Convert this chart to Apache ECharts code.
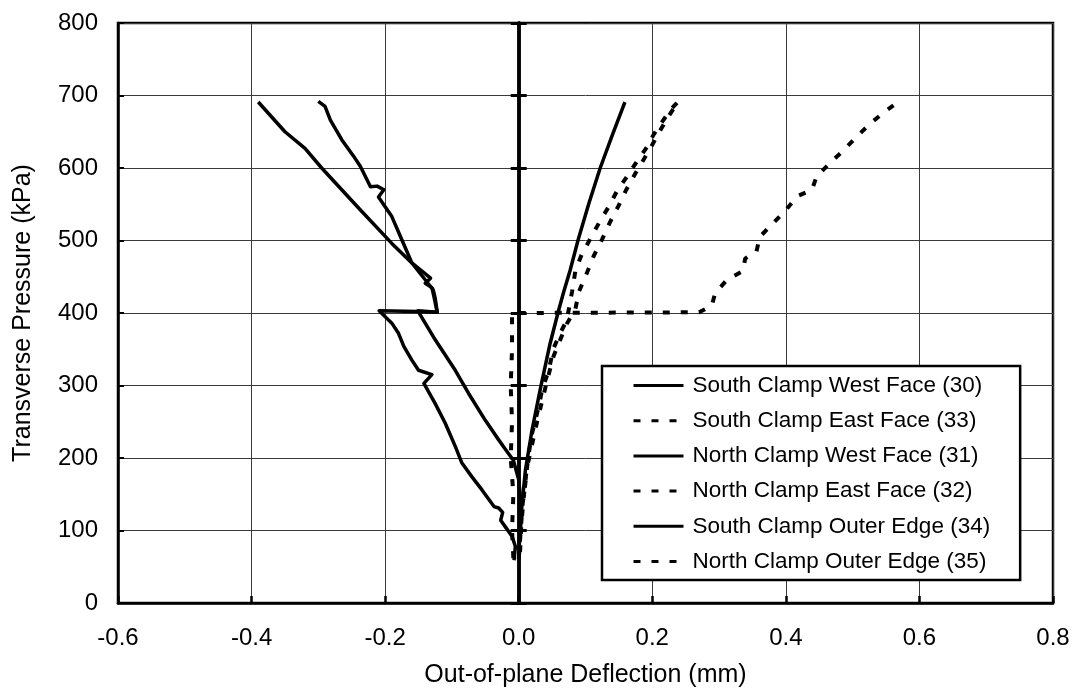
<!DOCTYPE html>
<html>
<head>
<meta charset="utf-8">
<script src="https://cdn.jsdelivr.net/npm/echarts@6/dist/echarts.min.js"></script>
<style>
  html, body { margin: 0; padding: 0; background: #fff; }
  #chart { width: 1081px; height: 698px; }
</style>
</head>
<body>
<div id="chart"></div>
<script>
// Axis ticks
const xTickLabels = ['-0.6', '-0.4', '-0.2', '0.0', '0.2', '0.4', '0.6', '0.8'];
const yTickLabels = ['0', '100', '200', '300', '400', '500', '600', '700', '800'];

const xTitle = 'Out-of-plane Deflection (mm)';
const yTitle = 'Transverse Pressure (kPa)';

// Gauge readings: [deflection (mm), pressure (kPa)]
const southWestFace30 = [
  [-0.007, 59], [-0.005, 78], [-0.010, 92], [-0.020, 105], [-0.027, 114], [-0.024, 125],
  [-0.030, 131], [-0.037, 133], [-0.055, 156], [-0.070, 174], [-0.085, 193], [-0.095, 216],
  [-0.110, 248], [-0.125, 275], [-0.142, 303], [-0.130, 315], [-0.150, 321], [-0.160, 335],
  [-0.172, 354], [-0.180, 372], [-0.190, 386], [-0.209, 403], [-0.151, 402], [-0.122, 401],
  [-0.127, 423], [-0.130, 435], [-0.140, 441], [-0.132, 448], [-0.160, 469], [-0.190, 496],
  [-0.237, 542], [-0.265, 570], [-0.295, 600], [-0.320, 627], [-0.350, 650], [-0.390, 691]
];
const southEastFace33 = [
  [0.000, 60], [0.003, 100], [0.006, 138], [0.010, 165], [0.014, 200], [0.020, 234],
  [0.030, 271], [0.035, 294], [0.045, 321], [0.052, 351], [0.062, 372], [0.072, 390],
  [0.075, 405], [0.080, 430], [0.085, 459], [0.094, 480], [0.107, 502], [0.120, 524],
  [0.135, 547], [0.147, 568], [0.162, 588], [0.177, 609], [0.192, 629], [0.202, 646],
  [0.215, 664], [0.227, 680], [0.237, 690]
];
const northWestFace31 = [
  [0.002, 90], [0.004, 130], [0.000, 170], [-0.008, 197], [-0.020, 212], [-0.030, 225],
  [-0.050, 252], [-0.075, 289], [-0.095, 321], [-0.125, 363], [-0.151, 403], [-0.122, 401],
  [-0.125, 420], [-0.128, 432], [-0.135, 440], [-0.160, 469], [-0.175, 501], [-0.190, 533],
  [-0.210, 560], [-0.202, 570], [-0.212, 575], [-0.222, 574], [-0.237, 602], [-0.247, 616],
  [-0.265, 639], [-0.282, 666], [-0.290, 685], [-0.300, 692]
];
const northEastFace32 = [
  [0.002, 70], [0.004, 110], [0.008, 150], [0.012, 185], [0.018, 210], [0.025, 240],
  [0.033, 271], [0.042, 305], [0.052, 340], [0.063, 365], [0.072, 385], [0.085, 406],
  [0.090, 429], [0.102, 455], [0.112, 478], [0.125, 502], [0.136, 524], [0.149, 547],
  [0.161, 570], [0.175, 593], [0.188, 613], [0.200, 632], [0.212, 652], [0.222, 668],
  [0.232, 682], [0.240, 690]
];
const southOuterEdge34 = [
  [0.000, 62], [0.002, 100], [0.005, 137], [0.010, 183], [0.020, 239], [0.033, 298],
  [0.047, 358], [0.059, 401], [0.067, 428], [0.077, 459], [0.089, 501], [0.105, 551],
  [0.122, 600], [0.140, 645], [0.159, 691]
];
const northOuterEdge35 = [
  [-0.008, 62], [-0.010, 100], [-0.008, 150], [-0.012, 200], [-0.010, 250], [-0.012, 300],
  [-0.010, 350], [-0.010, 400], [0.270, 401], [0.289, 410], [0.294, 427], [0.312, 446],
  [0.336, 458], [0.339, 475], [0.356, 485], [0.361, 505], [0.381, 524], [0.400, 542],
  [0.417, 561], [0.439, 570], [0.446, 588], [0.466, 607], [0.486, 624], [0.506, 643],
  [0.526, 661], [0.547, 677], [0.568, 691]
];

const seriesNames = [
  'South Clamp West Face (30)',
  'South Clamp East Face (33)',
  'North Clamp West Face (31)',
  'North Clamp East Face (32)',
  'South Clamp Outer Edge (34)',
  'North Clamp Outer Edge (35)'
];
const seriesData = [southWestFace30, southEastFace33, northWestFace31, northEastFace32, southOuterEdge34, northOuterEdge35];
const seriesDashed = [false, true, false, true, false, true];

const FONT = "'Liberation Sans', Arial, Helvetica, sans-serif";
const xMin = parseFloat(xTickLabels[0]);
const xMax = parseFloat(xTickLabels[xTickLabels.length - 1]);
const xStep = parseFloat(xTickLabels[1]) - xMin;
const yMin = parseFloat(yTickLabels[0]);
const yMax = parseFloat(yTickLabels[yTickLabels.length - 1]);
const yStep = parseFloat(yTickLabels[1]) - yMin;

// Vertical axis line through x = 0 with cross ticks (one half each side)
function zeroAxis(position) {
  return {
    type: 'value', min: yMin, max: yMax, interval: yStep, position: position,
    axisLine: { show: true, onZero: true, onZeroAxisIndex: 0, lineStyle: { color: '#000', width: 3.5 } },
    axisTick: { show: true, inside: false, length: 8, lineStyle: { color: '#000', width: 3 } },
    axisLabel: { show: false },
    splitLine: { show: false }
  };
}

const chart = echarts.init(document.getElementById('chart'), null, { renderer: 'canvas' });
chart.setOption({
  animation: false,
  backgroundColor: '#fff',
  textStyle: { fontFamily: FONT },
  grid: {
    left: 118, right: 28, top: 23, bottom: 95,
    show: true, borderColor: '#000', borderWidth: 2.5, backgroundColor: 'transparent',
    outerBoundsMode: 'none'
  },
  xAxis: {
    type: 'value', min: xMin, max: xMax, interval: xStep,
    name: xTitle, nameLocation: 'middle', nameGap: 60,
    nameTextStyle: { fontSize: 25, color: '#000', fontFamily: FONT },
    axisLine: { show: true, onZero: false, lineStyle: { color: '#000', width: 2.5 } },
    axisTick: { show: true, inside: true, length: 7, lineStyle: { color: '#000', width: 2.5 } },
    axisLabel: {
      fontSize: 24, color: '#000', margin: 23, fontFamily: FONT,
      formatter: function (v) { return xTickLabels[Math.round((v - xMin) / xStep)]; }
    },
    splitLine: { show: true, lineStyle: { color: '#3a3a3a', width: 1 } }
  },
  yAxis: [
    {
      type: 'value', min: yMin, max: yMax, interval: yStep, position: 'left',
      name: yTitle, nameLocation: 'middle', nameGap: 82, nameRotate: 90,
      nameTextStyle: { fontSize: 25, color: '#000', fontFamily: FONT },
      axisLine: { show: true, onZero: false, lineStyle: { color: '#000', width: 2.5 } },
      axisTick: { show: true, inside: true, length: 6, lineStyle: { color: '#000', width: 2 } },
      axisLabel: {
        fontSize: 24, color: '#000', margin: 20, fontFamily: FONT,
        formatter: function (v) { return yTickLabels[Math.round((v - yMin) / yStep)]; }
      },
      splitLine: { show: true, lineStyle: { color: '#3a3a3a', width: 1 } }
    },
    zeroAxis('left'),
    zeroAxis('right')
  ],
  legend: {
    orient: 'vertical',
    left: 602, top: 366,
    padding: [8, 30, 7, 30],
    itemWidth: 50, itemHeight: 14, itemGap: 12.2,
    backgroundColor: '#fff',
    borderColor: '#000', borderWidth: 2.5, borderRadius: 0,
    itemStyle: { opacity: 0, borderWidth: 0 },
    lineStyle: { width: 3 },
    textStyle: { fontSize: 22.5, lineHeight: 22, color: '#000', fontFamily: FONT, padding: [0, 0, 0, 4] },
    data: seriesNames
  },
  series: seriesNames.map(function (name, i) {
    return {
      name: name,
      type: 'line',
      xAxisIndex: 0, yAxisIndex: 0,
      data: seriesData[i],
      symbol: 'none',
      smooth: false,
      z: 3,
      lineStyle: seriesDashed[i]
        ? { color: '#000', width: 4, type: [7, 11], cap: 'butt' }
        : { color: '#000', width: 3.5, type: 'solid', join: 'round' },
      itemStyle: { color: '#000' }
    };
  })
});
</script>
</body>
</html>
